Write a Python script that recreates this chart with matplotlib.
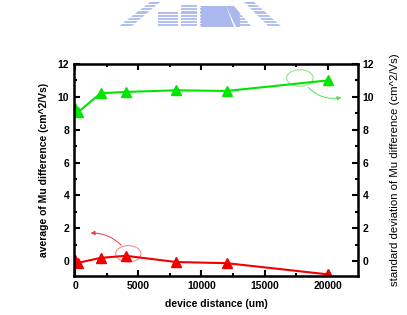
import numpy as np
import matplotlib
matplotlib.use("Agg")
import matplotlib.pyplot as plt
from matplotlib.patches import Ellipse, FancyArrowPatch, Polygon, Rectangle
from matplotlib.ticker import MultipleLocator

plt.rcParams['font.family'] = ['Liberation Sans', 'DejaVu Sans']

# datos
distancia = [0, 200, 2000, 4000, 8000, 12000, 20000]
promedio = [0.05, -0.1, 0.2, 0.33, -0.05, -0.12, -0.8]
desviacion = [9.3, 9.05, 10.22, 10.3, 10.4, 10.36, 11.0]

fig = plt.figure(figsize=(4.07, 3.15), dpi=100)
ax = fig.add_axes([74/407, 1-276/315, (358-74)/407, (276-64)/315])

ax.plot(distancia, promedio, color='#f00000', lw=1.5, marker='^', ms=7)
ax.plot(distancia, desviacion, color='#00e600', lw=1.5, marker='^', ms=7)

ax.set_xlim(-100, 22400)
ax.set_ylim(-0.9, 12)
ax.xaxis.set_major_locator(MultipleLocator(5000))
ax.xaxis.set_minor_locator(MultipleLocator(2500))
ax.yaxis.set_major_locator(MultipleLocator(2))
ax.yaxis.set_minor_locator(MultipleLocator(1))
ax.tick_params(which='both', direction='in', top=True, right=False, width=1.5)
ax.tick_params(which='major', length=4, labelsize=7.5)
ax.tick_params(which='minor', length=2.5)
for s in ax.spines.values():
    s.set_linewidth(1.8)
for t in ax.get_xticklabels() + ax.get_yticklabels():
    t.set_fontweight('bold')

ax2 = ax.twinx()
ax2.set_ylim(-0.9, 12)
ax2.yaxis.set_major_locator(MultipleLocator(2))
ax2.yaxis.set_minor_locator(MultipleLocator(1))
ax2.tick_params(which='both', direction='in', width=1.5)
ax2.tick_params(which='major', length=4, labelsize=7.5)
ax2.tick_params(which='minor', length=2.5)
for t in ax2.get_yticklabels():
    t.set_fontweight('bold')

ax.set_xlabel('device distance (um)', fontsize=7.5, fontweight='bold', labelpad=6)
ax.set_ylabel('average of Mu difference (cm^2/Vs)', fontsize=7.5, fontweight='bold', labelpad=6)
ax2.set_ylabel('standard deviation of Mu difference (cm^2/Vs)', fontsize=8.2, labelpad=11)

# anotaciones a mano
ax.add_patch(Ellipse((17800, 11.15), 2100, 1.0, fill=False, ec='#8be88b', lw=0.8))
ax.add_patch(FancyArrowPatch((18300, 10.7), (21300, 10.0), connectionstyle='arc3,rad=0.3',
                             arrowstyle='-|>', mutation_scale=6, color='#55dd55', lw=0.7))
ax.add_patch(Ellipse((4200, 0.45), 2000, 1.0, fill=False, ec='#f09090', lw=0.8))
ax.add_patch(FancyArrowPatch((3800, 0.85), (1000, 1.7), connectionstyle='arc3,rad=0.25',
                             arrowstyle='-|>', mutation_scale=6, color='#e04040', lw=0.7))

# marca de agua del logo (aproximada)
azul = '#aab8ee'
def px(x, y):
    return [x/407, 1-y/315]
logo = [
    [px(118, 27), px(131, 27), px(160, 2), px(150, 2)],
    [px(282, 27), px(269, 27), px(244, 2), px(254, 2)],
    [px(200, 27), px(200, 6), px(226, 6), px(234, 27)],
    [px(226, 6), px(234, 6), px(252, 27), px(236, 27)],
]
for p in logo:
    fig.patches.append(Polygon(p, closed=True, transform=fig.transFigure, fc=azul, ec='none'))
fig.patches.append(Rectangle(px(158, 27), 20/407, 15/315, transform=fig.transFigure, fc=azul, ec='none'))
fig.patches.append(Rectangle(px(181, 27), 16/407, 22/315, transform=fig.transFigure, fc=azul, ec='none'))
# rayas blancas horizontales para el rayado
for y in np.arange(4, 28, 3.2):
    fig.lines.append(plt.Line2D([115/407, 200/407], [1-y/315, 1-y/315], transform=fig.transFigure,
                                color='white', lw=0.9))
    fig.lines.append(plt.Line2D([240/407, 290/407], [1-y/315, 1-y/315], transform=fig.transFigure,
                                color='white', lw=0.9))

fig.savefig('out.png', dpi=100)
